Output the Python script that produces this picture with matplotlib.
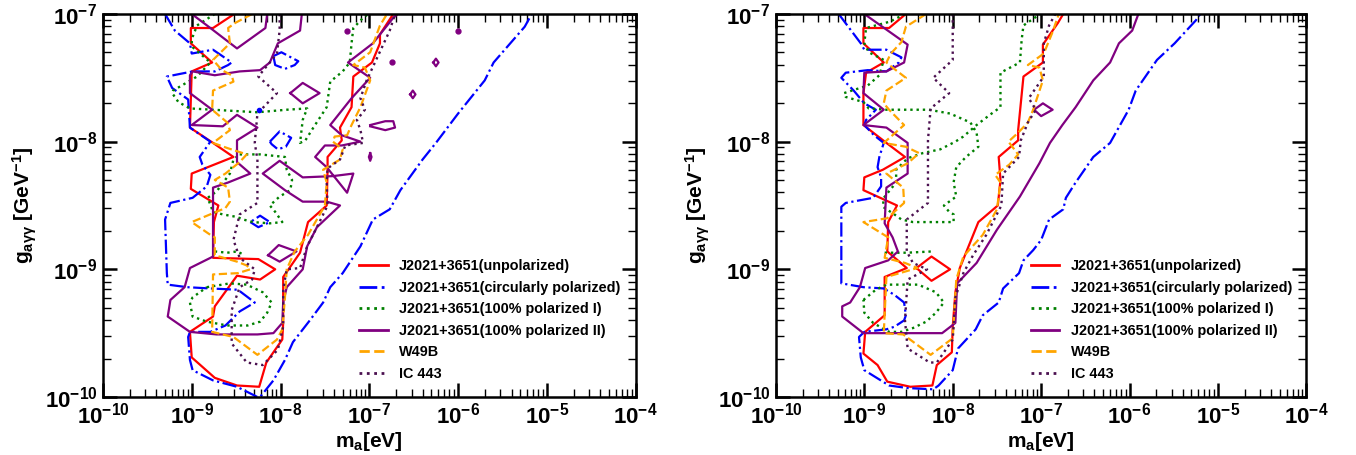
import matplotlib.pyplot as plt
import numpy as np
from matplotlib.lines import Line2D

plt.rcParams['font.family'] = ['Liberation Sans', 'DejaVu Sans']
plt.rcParams['font.weight'] = 'bold'
plt.rcParams['axes.labelweight'] = 'bold'
plt.rcParams['mathtext.fontset'] = 'custom'
plt.rcParams['mathtext.rm'] = 'Liberation Sans:bold'
plt.rcParams['mathtext.it'] = 'Liberation Sans:bold'
plt.rcParams['mathtext.bf'] = 'Liberation Sans:bold'
plt.rcParams['mathtext.default'] = 'bf'

# contour paths, (log10 m_a [eV], log10 g [GeV^-1])
# ---- left panel ----
L_unpol = [(-8.52, -7.0), (-8.76, -7.11), (-9.01, -7.11), (-9.01, -7.23), (-8.77, -7.38), (-9.00, -7.45),
           (-9.02, -7.89), (-8.76, -8.01), (-8.53, -8.12), (-9.00, -8.25), (-9.01, -8.37), (-8.70, -8.50),
           (-8.75, -8.63), (-8.76, -8.91), (-8.25, -8.92), (-8.06, -9.00), (-8.23, -9.08), (-8.49, -9.05),
           (-8.74, -9.29), (-8.76, -9.37), (-9.02, -9.49), (-9.00, -9.69), (-8.74, -9.85), (-8.49, -9.91),
           (-8.24, -9.92), (-8.16, -9.73), (-7.98, -9.55), (-7.97, -9.42), (-7.97, -9.06), (-7.78, -8.87),
           (-7.69, -8.63), (-7.48, -8.50), (-7.47, -8.22), (-7.47, -8.12), (-7.31, -7.99), (-7.33, -7.89),
           (-7.20, -7.73), (-7.18, -7.49), (-6.97, -7.38), (-6.88, -7.23), (-6.88, -7.16), (-6.73, -7.0)]

L_circ = [(-9.30, -7.0), (-9.19, -7.13), (-9.02, -7.23), (-9.00, -7.31), (-8.76, -7.28), (-8.55, -7.38),
          (-8.59, -7.40), (-8.74, -7.45), (-8.99, -7.45), (-9.28, -7.49), (-9.22, -7.58), (-9.04, -7.67),
          (-9.02, -7.89), (-8.79, -8.00), (-8.91, -8.12), (-8.88, -8.18), (-8.79, -8.26), (-8.83, -8.35),
          (-8.99, -8.44), (-9.24, -8.48), (-9.30, -8.61), (-9.28, -9.03), (-9.27, -9.12), (-9.05, -9.14),
          (-8.79, -9.15), (-8.48, -9.16), (-8.29, -9.26), (-8.46, -9.33), (-8.62, -9.44), (-8.79, -9.49),
          (-9.02, -9.49), (-9.04, -9.53), (-9.02, -9.71), (-8.99, -9.79), (-8.76, -9.87), (-8.49, -9.92),
          (-8.26, -10.0), (-8.23, -10.0), (-8.08, -9.87), (-7.95, -9.71), (-7.86, -9.57), (-7.67, -9.40),
          (-7.52, -9.26), (-7.44, -9.14), (-7.30, -9.03), (-7.10, -8.82), (-6.96, -8.61), (-6.77, -8.53),
          (-6.65, -8.38), (-6.40, -8.14), (-6.25, -8.01), (-6.00, -7.78), (-5.70, -7.52), (-5.60, -7.38),
          (-5.25, -7.10), (-5.17, -7.0)]
L_circ_a = [(-8.12, -8.00), (-8.01, -7.92), (-7.88, -7.97), (-7.94, -8.04), (-8.03, -8.06), (-8.10, -8.02), (-8.12, -8.00)]
L_circ_b = [(-8.08, -7.33), (-7.99, -7.30), (-7.80, -7.37), (-7.84, -7.40), (-7.95, -7.43), (-8.06, -7.40), (-8.08, -7.33)]
L_circ_c = [(-8.34, -8.63), (-8.25, -8.67), (-8.12, -8.63), (-8.23, -8.58), (-8.34, -8.63)]
L_circ_dot = [(-8.24, -7.75)]

L_polI = [(-8.74, -7.0), (-8.94, -7.09), (-8.99, -7.18), (-9.00, -7.22), (-8.99, -7.26), (-8.79, -7.38),
          (-8.94, -7.49), (-9.21, -7.60), (-9.22, -7.62), (-9.15, -7.69), (-9.02, -7.74), (-8.76, -7.75),
          (-8.26, -7.77), (-7.93, -7.75), (-7.70, -7.74), (-7.75, -7.83), (-7.78, -8.01), (-7.72, -7.99),
          (-7.63, -7.89), (-7.48, -7.73), (-7.44, -7.53), (-7.30, -7.45), (-7.22, -7.38), (-7.20, -7.23),
          (-7.18, -7.11), (-7.07, -7.03), (-7.01, -7.0)]
L_polI_mid = [(-8.46, -8.10), (-8.23, -8.10), (-7.95, -8.12), (-7.93, -8.22), (-7.87, -8.30), (-7.89, -8.38),
              (-8.01, -8.43), (-8.12, -8.50), (-8.06, -8.55), (-7.98, -8.63), (-8.12, -8.64), (-8.31, -8.63),
              (-8.42, -8.61), (-8.49, -8.59), (-8.65, -8.57), (-8.76, -8.55), (-8.82, -8.44), (-8.72, -8.39),
              (-8.57, -8.25), (-8.53, -8.14), (-8.46, -8.10)]
L_polI_seg = [(-8.74, -8.86), (-8.60, -8.87), (-8.49, -8.86), (-8.40, -8.89)]
L_polI_low = [(-8.83, -9.14), (-8.57, -9.11), (-8.38, -9.12), (-8.20, -9.18), (-8.10, -9.26), (-8.15, -9.34),
              (-8.23, -9.41), (-8.37, -9.44), (-8.60, -9.44), (-8.83, -9.41), (-8.99, -9.37), (-9.02, -9.26),
              (-8.99, -9.22), (-8.83, -9.14)]

L_polII = [(-7.76, -7.0), (-7.78, -7.13), (-8.03, -7.23), (-8.12, -7.38), (-8.23, -7.44), (-8.46, -7.45),
           (-8.74, -7.48), (-8.99, -7.45), (-9.02, -7.48), (-9.02, -7.62), (-8.77, -7.75), (-9.00, -7.87),
           (-8.65, -7.88), (-8.49, -7.79), (-8.26, -7.89), (-8.49, -7.99), (-8.49, -8.16), (-8.34, -8.25),
           (-8.59, -8.32), (-8.76, -8.36), (-8.76, -8.90), (-9.02, -8.99), (-9.08, -9.14), (-9.24, -9.24),
           (-9.27, -9.37), (-9.02, -9.49), (-8.72, -9.51), (-8.26, -9.51), (-8.08, -9.50), (-7.98, -9.42),
           (-7.97, -9.26), (-7.93, -9.14), (-7.75, -9.00), (-7.70, -8.82), (-7.59, -8.67), (-7.33, -8.50),
           (-7.48, -8.47), (-7.75, -8.47), (-7.95, -8.38), (-8.20, -8.25), (-8.01, -8.15), (-7.75, -8.28),
           (-7.41, -8.27), (-7.18, -8.25), (-7.25, -8.40), (-7.48, -8.20), (-7.61, -8.12), (-7.50, -8.03),
           (-7.31, -8.03), (-7.10, -8.00), (-7.31, -7.95), (-7.44, -7.87), (-7.20, -7.66), (-6.99, -7.50),
           (-7.24, -7.38), (-6.96, -7.23), (-6.73, -7.03), (-6.68, -7.0)]
L_polII_top = [(-9.00, -7.0), (-8.79, -7.11), (-8.49, -7.27), (-8.17, -7.11), (-8.15, -7.0)]
L_polII_d1 = [(-7.89, -7.62), (-7.75, -7.54), (-7.56, -7.62), (-7.75, -7.70), (-7.89, -7.62)]
L_polII_d2 = [(-8.14, -8.89), (-8.02, -8.81), (-7.82, -8.86), (-8.01, -8.94), (-8.14, -8.89)]
L_polII_d3 = [(-6.99, -7.87), (-6.82, -7.84), (-6.73, -7.84), (-6.71, -7.89), (-6.82, -7.91), (-6.99, -7.88)]
L_polII_d4 = [(-6.99, -8.09), (-6.975, -8.12), (-6.99, -8.15), (-7.005, -8.12), (-6.99, -8.09)]
L_polII_d5 = [(-6.28, -7.38), (-6.25, -7.35), (-6.22, -7.38), (-6.25, -7.41), (-6.28, -7.38)]
L_polII_d6 = [(-6.54, -7.63), (-6.51, -7.60), (-6.48, -7.63), (-6.51, -7.66), (-6.54, -7.63)]
L_polII_dots = [(-7.25, -7.13), (-6.74, -7.38), (-6.00, -7.13)]

L_w49b = [(-8.32, -7.0), (-8.51, -7.07), (-8.59, -7.11), (-8.57, -7.23), (-8.76, -7.36), (-8.66, -7.44),
          (-8.55, -7.48), (-8.53, -7.53), (-8.76, -7.60), (-8.77, -7.75), (-8.60, -7.85), (-8.57, -7.91),
          (-8.76, -8.01), (-8.60, -8.05), (-8.38, -8.10), (-8.46, -8.16), (-8.62, -8.25), (-8.74, -8.30),
          (-8.59, -8.36), (-8.57, -8.47), (-8.62, -8.52), (-9.00, -8.63), (-8.79, -8.73), (-8.74, -8.75),
          (-8.74, -8.89), (-8.49, -8.94), (-8.38, -8.97), (-8.34, -9.00), (-8.48, -9.03), (-8.76, -9.04),
          (-8.77, -9.49), (-8.53, -9.53), (-8.26, -9.67), (-8.04, -9.55), (-7.98, -9.47), (-7.95, -9.22),
          (-7.93, -9.00), (-7.84, -8.86), (-7.69, -8.73), (-7.50, -8.50), (-7.48, -8.32), (-7.52, -8.22),
          (-7.33, -8.14), (-7.30, -8.06), (-7.41, -8.00), (-7.39, -7.96), (-7.25, -7.95), (-7.20, -7.87),
          (-7.10, -7.73), (-6.99, -7.52), (-7.05, -7.42), (-7.18, -7.40), (-6.99, -7.30), (-6.88, -7.09),
          (-6.80, -7.0)]

L_ic443 = [(-8.01, -7.0), (-8.01, -7.13), (-8.04, -7.31), (-8.25, -7.49), (-8.04, -7.62), (-8.26, -7.78),
           (-8.29, -8.01), (-8.26, -8.14), (-8.26, -8.48), (-8.46, -8.57), (-8.53, -8.77), (-8.46, -8.91),
           (-8.29, -9.00), (-8.32, -9.08), (-8.46, -9.14), (-8.55, -9.32), (-8.55, -9.58), (-8.38, -9.73),
           (-8.20, -9.75), (-8.03, -9.63), (-7.97, -9.45), (-7.97, -9.16), (-7.93, -9.00), (-7.78, -8.99),
           (-7.70, -8.82), (-7.59, -8.67), (-7.47, -8.50), (-7.48, -8.32), (-7.47, -8.21), (-7.33, -8.14),
           (-7.27, -8.03), (-7.07, -8.01), (-7.10, -7.91), (-7.14, -7.83), (-7.05, -7.75), (-7.10, -7.66),
           (-7.03, -7.52), (-6.91, -7.34), (-6.77, -7.13), (-6.71, -7.0)]

# ---- right panel ----
R_unpol = [(-8.53, -7.0), (-8.72, -7.11), (-9.01, -7.11), (-9.01, -7.23), (-8.78, -7.38), (-8.98, -7.46),
           (-9.01, -7.62), (-9.01, -7.87), (-8.75, -8.01), (-8.54, -8.12), (-8.79, -8.22), (-9.00, -8.28),
           (-9.01, -8.38), (-8.63, -8.50), (-8.73, -8.63), (-8.74, -8.86), (-8.52, -8.99), (-8.77, -9.06),
           (-8.77, -9.36), (-8.99, -9.49), (-9.01, -9.66), (-8.85, -9.75), (-8.74, -9.88), (-8.48, -9.92),
           (-8.23, -9.91), (-8.18, -9.75), (-8.01, -9.65), (-8.00, -9.45), (-7.97, -9.18), (-7.92, -8.99),
           (-7.71, -8.63), (-7.49, -8.50), (-7.46, -8.30), (-7.48, -8.12), (-7.26, -7.99), (-7.26, -7.91),
           (-7.23, -7.70), (-7.20, -7.49), (-6.98, -7.38), (-6.98, -7.24), (-6.81, -7.07), (-6.75, -7.0)]
R_unpol_d = [(-8.41, -8.99), (-8.24, -8.90), (-8.03, -9.00), (-8.24, -9.09), (-8.41, -8.99)]

R_circ = [(-9.29, -7.0), (-9.04, -7.23), (-9.00, -7.28), (-8.75, -7.28), (-8.58, -7.34), (-8.61, -7.38),
          (-8.75, -7.45), (-8.96, -7.44), (-9.21, -7.46), (-9.26, -7.50), (-9.12, -7.60), (-9.00, -7.70),
          (-8.87, -7.75), (-8.98, -7.83), (-9.00, -7.87), (-8.89, -7.95), (-8.78, -8.01), (-8.83, -8.12),
          (-8.85, -8.20), (-8.81, -8.28), (-8.81, -8.35), (-8.90, -8.44), (-9.21, -8.48), (-9.26, -8.51),
          (-9.26, -9.03), (-9.26, -9.11), (-9.01, -9.14), (-8.78, -9.15), (-8.66, -9.20), (-8.55, -9.26),
          (-8.53, -9.36), (-8.55, -9.40), (-8.66, -9.45), (-8.75, -9.47), (-9.00, -9.49), (-9.06, -9.53),
          (-9.04, -9.69), (-9.00, -9.79), (-8.72, -9.91), (-8.51, -9.93), (-8.22, -9.94), (-8.16, -9.91),
          (-8.00, -9.79), (-7.94, -9.62), (-7.74, -9.47), (-7.66, -9.36), (-7.48, -9.26), (-7.43, -9.15),
          (-7.25, -9.03), (-7.20, -8.93), (-7.09, -8.85), (-7.00, -8.77), (-6.91, -8.61), (-6.75, -8.53),
          (-6.72, -8.44), (-6.61, -8.32), (-6.41, -8.12), (-6.22, -8.01), (-6.01, -7.75), (-5.93, -7.60),
          (-5.69, -7.36), (-5.49, -7.23), (-5.25, -7.05), (-5.20, -7.0)]

R_polI = [(-8.54, -7.0), (-8.71, -7.06), (-8.98, -7.11), (-9.00, -7.23), (-8.95, -7.30), (-8.78, -7.36),
          (-8.83, -7.48), (-8.96, -7.56), (-9.23, -7.62), (-9.21, -7.65), (-9.01, -7.69), (-8.95, -7.74),
          (-8.75, -7.75), (-8.49, -7.75), (-8.27, -7.75), (-8.03, -7.78), (-7.80, -7.85), (-7.73, -7.93),
          (-7.71, -8.04), (-7.85, -8.12), (-7.96, -8.20), (-7.99, -8.32), (-7.96, -8.43), (-8.10, -8.50),
          (-8.04, -8.55), (-7.99, -8.57), (-7.99, -8.63), (-8.19, -8.63), (-8.45, -8.63), (-8.58, -8.61),
          (-8.66, -8.57), (-8.79, -8.51), (-8.78, -8.44), (-8.64, -8.32), (-8.64, -8.22), (-8.51, -8.13),
          (-8.34, -8.09), (-8.14, -8.06), (-7.97, -8.00), (-7.88, -7.96), (-7.73, -7.87), (-7.58, -7.79),
          (-7.46, -7.73), (-7.46, -7.46), (-7.24, -7.38), (-7.22, -7.20), (-7.20, -7.09), (-7.01, -7.0)]
R_polI_seg = [(-8.77, -8.87), (-8.52, -8.87), (-8.23, -8.86)]
R_polI_low = [(-9.01, -9.24), (-8.87, -9.16), (-8.75, -9.12), (-8.39, -9.12), (-8.19, -9.18), (-8.10, -9.26),
              (-8.19, -9.34), (-8.30, -9.41), (-8.45, -9.46), (-8.58, -9.49), (-8.72, -9.49), (-8.90, -9.42),
              (-9.00, -9.34), (-9.01, -9.24)]

R_polII = [(-9.00, -7.0), (-8.51, -7.24), (-8.55, -7.38), (-8.75, -7.45), (-9.00, -7.46), (-9.01, -7.62),
           (-8.78, -7.75), (-9.01, -7.87), (-8.75, -7.89), (-8.51, -8.01), (-8.51, -8.25), (-8.75, -8.36),
           (-8.77, -8.64), (-8.68, -8.75), (-8.62, -8.86), (-8.73, -8.93), (-8.99, -8.99), (-9.05, -9.14),
           (-9.16, -9.26), (-9.25, -9.29), (-9.25, -9.37), (-9.01, -9.50), (-8.12, -9.50), (-7.97, -9.42),
           (-7.95, -9.11), (-7.73, -8.95), (-7.50, -8.69), (-7.24, -8.43), (-7.02, -8.17), (-6.90, -8.01),
           (-6.76, -7.87), (-6.61, -7.73), (-6.41, -7.52), (-6.22, -7.38), (-6.12, -7.23), (-5.97, -7.13),
           (-5.90, -7.0)]
R_polII_d = [(-7.08, -7.75), (-6.98, -7.70), (-6.87, -7.75), (-7.00, -7.80), (-7.08, -7.75)]

R_w49b = [(-8.30, -7.0), (-8.53, -7.10), (-8.58, -7.22), (-8.70, -7.31), (-8.75, -7.38), (-8.68, -7.42),
          (-8.53, -7.50), (-8.75, -7.60), (-8.78, -7.70), (-8.72, -7.75), (-8.55, -7.87), (-8.78, -8.01),
          (-8.53, -8.04), (-8.38, -8.09), (-8.51, -8.17), (-8.75, -8.25), (-8.56, -8.36), (-8.55, -8.48),
          (-8.74, -8.60), (-9.01, -8.63), (-8.73, -8.75), (-8.77, -8.91), (-8.54, -8.95), (-8.40, -8.99),
          (-8.75, -9.06), (-8.78, -9.50), (-8.56, -9.51), (-8.25, -9.67), (-8.00, -9.54), (-7.96, -9.08),
          (-7.88, -8.90), (-7.66, -8.73), (-7.50, -8.53), (-7.46, -8.32), (-7.52, -8.26), (-7.36, -8.18),
          (-7.26, -8.10), (-7.37, -8.00), (-7.26, -7.93), (-7.15, -7.85), (-7.09, -7.75), (-6.98, -7.52),
          (-7.02, -7.42), (-7.15, -7.40), (-6.97, -7.31), (-6.87, -7.14), (-6.80, -7.0)]

R_ic443 = [(-8.00, -7.0), (-8.00, -7.36), (-8.22, -7.50), (-8.04, -7.62), (-8.25, -7.74), (-8.28, -7.99),
           (-8.28, -8.48), (-8.52, -8.61), (-8.52, -8.86), (-8.45, -8.95), (-8.29, -9.00), (-8.51, -9.08),
           (-8.54, -9.40), (-8.51, -9.62), (-8.26, -9.73), (-8.18, -9.73), (-8.00, -9.55), (-7.97, -9.22),
           (-7.88, -9.03), (-7.77, -8.89), (-7.62, -8.73), (-7.45, -8.50), (-7.43, -8.25), (-7.25, -8.12),
           (-7.23, -7.99), (-7.15, -7.85), (-7.06, -7.75), (-7.14, -7.66), (-6.97, -7.49), (-6.97, -7.23),
           (-6.91, -7.09), (-6.84, -7.0)]

labels = ['J2021+3651(unpolarized)', 'J2021+3651(circularly polarized)', 'J2021+3651(100% polarized I)',
          'J2021+3651(100% polarized II)', 'W49B', 'IC 443']
colors = ['red', 'blue', 'green', 'purple', 'orange', '#4b1050']
styles = ['-', '-.', ':', '-', '--', ':']

left_sets = [[L_unpol], [L_circ, L_circ_a, L_circ_b, L_circ_c],
             [L_polI, L_polI_mid, L_polI_seg, L_polI_low],
             [L_polII, L_polII_top, L_polII_d1, L_polII_d2, L_polII_d3, L_polII_d4, L_polII_d5, L_polII_d6],
             [L_w49b], [L_ic443]]
right_sets = [[R_unpol, R_unpol_d], [R_circ], [R_polI, R_polI_seg, R_polI_low],
              [R_polII, R_polII_d], [R_w49b], [R_ic443]]

fig = plt.figure(figsize=(13.56, 4.55), dpi=100)
axL = fig.add_axes([0.0759, 0.1275, 0.3929, 0.8418])
axR = fig.add_axes([0.5722, 0.1275, 0.3912, 0.8418])


def draw(ax, pts, **kw):
    a = np.array(pts)
    ax.plot(10 ** a[:, 0], 10 ** a[:, 1], **kw)


for ax, sets in [(axL, left_sets), (axR, right_sets)]:
    for i, group in enumerate(sets):
        for pts in group:
            draw(ax, pts, color=colors[i], ls=styles[i], lw=1.7 if styles[i] == ':' else 1.6)
    ax.set_xscale('log')
    ax.set_yscale('log')
    ax.set_xlim(1e-10, 1e-4)
    ax.set_ylim(1e-10, 1e-7)
    ax.tick_params(which='both', direction='in', top=True, right=True)
    ax.tick_params(which='major', length=10, width=1.8, labelsize=16, pad=4)
    ax.tick_params(which='minor', length=5.5, width=1.0)
    for s in ax.spines.values():
        s.set_linewidth(1.8)
    ax.set_xlabel(r'$m_a$[eV]', fontsize=15, labelpad=1)
    ax.set_ylabel(r'$g_{a\gamma\gamma}$ [GeV$^{-1}$]', fontsize=15, labelpad=4)
    handles = [Line2D([], [], color=colors[i], ls=styles[i], lw=2.0) for i in range(6)]
    ax.legend(handles, labels, loc='upper left', bbox_to_anchor=(0.48, 0.36), frameon=False,
              fontsize=10.4, handlelength=2.0, handletextpad=0.8, labelspacing=0.52,
              borderpad=0, borderaxespad=0)

# isolated tiny contour islands
a = np.array(L_polII_dots)
axL.plot(10 ** a[:, 0], 10 ** a[:, 1], 'o', color='purple', ms=3.5)
a = np.array(L_circ_dot)
axL.plot(10 ** a[:, 0], 10 ** a[:, 1], 'o', color='blue', ms=3)

fig.savefig('out.png', dpi=100)
